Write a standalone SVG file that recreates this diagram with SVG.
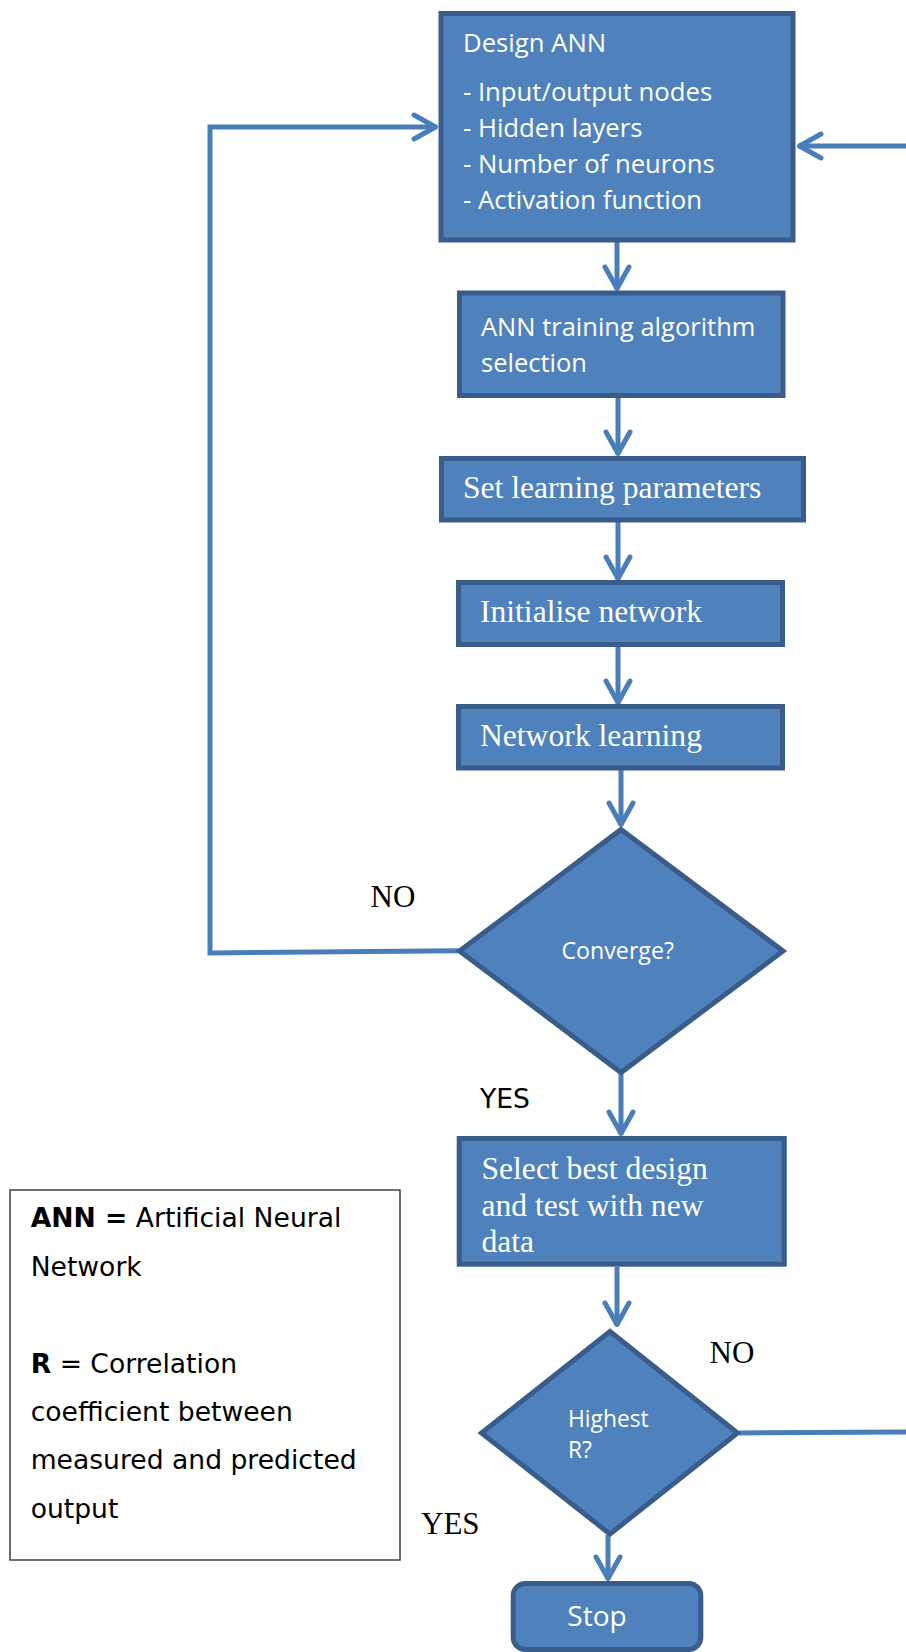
<svg xmlns="http://www.w3.org/2000/svg" width="906" height="1652" viewBox="0 0 906 1652">
  <style>
    .box { fill: #4F81BD; stroke: #385D8A; stroke-width: 5; stroke-linejoin: miter; }
    .conn { fill: none; stroke: #4A7EBB; stroke-width: 5; }
    .sans { font-family: "Open Sans", "Noto Sans", sans-serif; fill: #FFFFFF; }
    .serif { font-family: "Liberation Serif", "Times New Roman", serif; fill: #FFFFFF; font-size: 31.6px; }
    .lbl-serif { font-family: "Liberation Serif", "Times New Roman", serif; fill: #000000; font-size: 31px; }
    .lbl-sans { font-family: "DejaVu Sans", Verdana, sans-serif; fill: #000000; font-size: 26.6px; }
    .legend { fill: #FFFFFF; stroke: #404040; stroke-width: 1.5; }
  </style>
  <defs>
    <marker id="arr" markerUnits="userSpaceOnUse" viewBox="-30 -20 40 40" markerWidth="40" markerHeight="40" refX="0" refY="0" orient="auto" overflow="visible">
      <path d="M-23,-12 L-1.5,0 L-23,12" fill="none" stroke="#4A7EBB" stroke-width="5" stroke-linecap="round" stroke-linejoin="round"/>
    </marker>
  </defs>

  <rect width="906" height="1652" fill="#FFFFFF"/>

  <g id="connectors">
    <path class="conn" d="M459,950.7 L210,953 L210,127 L437,127" marker-end="url(#arr)"/>
    <path class="conn" d="M906,146 L798,146" marker-end="url(#arr)"/>
    <path class="conn" d="M617,242 L617,290" marker-end="url(#arr)"/>
    <path class="conn" d="M618,398 L618,455" marker-end="url(#arr)"/>
    <path class="conn" d="M618,522 L618,580" marker-end="url(#arr)"/>
    <path class="conn" d="M618,646 L618,704" marker-end="url(#arr)"/>
    <path class="conn" d="M621,769 L621,826" marker-end="url(#arr)"/>
    <path class="conn" d="M621,1074 L621,1135" marker-end="url(#arr)"/>
    <path class="conn" d="M617,1267 L617,1326" marker-end="url(#arr)"/>
    <path class="conn" d="M608,1535 L608,1580" marker-end="url(#arr)"/>
    <path class="conn" d="M739,1433 L906,1432"/>
  </g>

  <g id="design-ann">
    <rect class="box" x="441" y="13.5" width="352" height="226.5"/>
    <text class="sans" font-size="25.7" x="463" y="52">Design ANN</text>
    <text class="sans" font-size="25.7" x="463" y="101">- Input/output nodes</text>
    <text class="sans" font-size="25.7" x="463" y="137">- Hidden layers</text>
    <text class="sans" font-size="25.7" x="463" y="172.5">- Number of neurons</text>
    <text class="sans" font-size="25.7" x="463" y="208.5">- Activation function</text>
  </g>

  <g id="training-algorithm">
    <rect class="box" x="459.5" y="293" width="323.5" height="102.5"/>
    <text class="sans" font-size="25.5" x="481" y="336">ANN training algorithm</text>
    <text class="sans" font-size="25.5" x="481" y="372">selection</text>
  </g>

  <g id="learning-parameters">
    <rect class="box" x="441.5" y="458.5" width="362" height="61.5"/>
    <text class="serif" x="463" y="498">Set learning parameters</text>
  </g>

  <g id="initialise-network">
    <rect class="box" x="458.5" y="582.5" width="324" height="62"/>
    <text class="serif" x="480" y="621.7">Initialise network</text>
  </g>

  <g id="network-learning">
    <rect class="box" x="458.5" y="706.5" width="324" height="61.5"/>
    <text class="serif" x="480" y="746">Network learning</text>
  </g>

  <g id="converge">
    <polygon class="box" points="621,829.5 783,951 621,1072.5 459.5,951"/>
    <text class="sans" font-size="23.2" x="561.5" y="959.3">Converge?</text>
  </g>

  <g id="select-best">
    <rect class="box" x="459.2" y="1138.5" width="325" height="125.7"/>
    <text class="serif" x="481.5" y="1179">Select best design</text>
    <text class="serif" x="481.5" y="1215.7">and test with new</text>
    <text class="serif" x="481.5" y="1252.3">data</text>
  </g>

  <g id="highest-r">
    <polygon class="box" points="610,1331.5 737.5,1433 610,1534 481.5,1433"/>
    <text class="sans" font-size="22.8" x="568" y="1426.7">Highest</text>
    <text class="sans" font-size="22.8" x="568" y="1458.3">R?</text>
  </g>

  <g id="stop">
    <rect class="box" x="513.2" y="1583.5" width="187.6" height="66" rx="12" ry="12"/>
    <text class="sans" font-size="28" x="567.3" y="1625.7">Stop</text>
  </g>

  <g id="labels">
    <text class="lbl-serif" x="370.6" y="907.3">NO</text>
    <text class="lbl-sans" x="480" y="1108.3">YES</text>
    <text class="lbl-serif" x="709.5" y="1362.5">NO</text>
    <text class="lbl-serif" x="421" y="1534.3">YES</text>
  </g>

  <g id="legend">
    <rect class="legend" x="10" y="1190" width="390" height="370"/>
    <text class="lbl-sans" x="30.7" y="1226.7"><tspan font-weight="bold">ANN =</tspan> Artificial Neural</text>
    <text class="lbl-sans" x="30.7" y="1275.7">Network</text>
    <text class="lbl-sans" x="30.7" y="1372.7"><tspan font-weight="bold">R</tspan> = Correlation</text>
    <text class="lbl-sans" x="30.7" y="1420.7">coefficient between</text>
    <text class="lbl-sans" x="30.7" y="1469">measured and predicted</text>
    <text class="lbl-sans" x="30.7" y="1518.3">output</text>
  </g>
</svg>
